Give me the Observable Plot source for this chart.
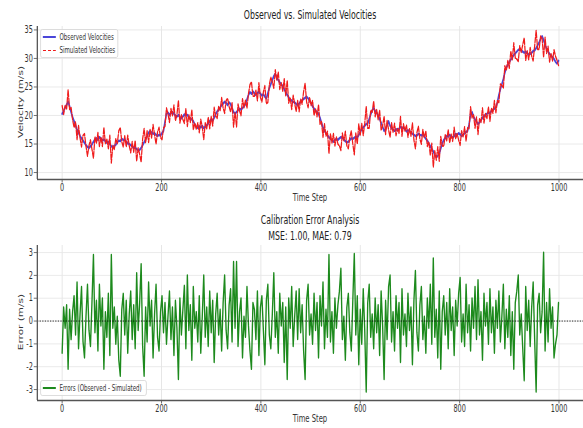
<!DOCTYPE html>
<html><head><meta charset="utf-8">
<script src="https://cdn.jsdelivr.net/npm/d3@7"></script>
<script src="https://cdn.jsdelivr.net/npm/@observablehq/plot@0.6"></script>
<style>
html,body{margin:0;padding:0;background:#fff;overflow:hidden;}
#wrap{position:relative;width:898px;height:428px;transform:scaleX(0.64922);transform-origin:0 0;font-family:"DejaVu Sans",sans-serif;color:#222;}
.abs{position:absolute;white-space:nowrap;}
.plot{position:absolute;left:0;}
</style></head><body><div id="wrap"></div>
<script>
// Time steps are sampled every 3 steps (0..999)
const timeStep = 3;
const observed = [
20.3,20.8,21.4,21.9,22.4,21.6,20.6,19.7,19.0,18.3,
17.5,17.0,16.4,16.0,15.6,15.2,14.8,14.5,14.3,14.6,
14.9,15.4,15.8,16.0,15.7,16.2,16.0,15.6,15.8,15.5,
15.2,15.4,15.0,14.6,14.4,14.7,14.9,15.3,15.6,15.5,
15.9,15.7,15.8,15.4,15.1,15.0,14.8,14.6,14.3,14.4,
14.1,13.9,14.0,14.3,14.8,15.3,15.8,16.4,17.0,17.3,
17.0,16.8,16.9,16.6,16.4,16.6,16.5,16.9,17.3,18.9,
20.3,20.5,20.1,20.4,20.6,20.3,20.0,19.8,20.1,19.7,
19.5,19.8,20.2,20.0,20.1,19.7,19.5,19.3,19.0,18.4,
18.0,17.8,18.1,17.9,18.2,17.8,18.0,18.3,18.6,19.0,
19.3,19.1,19.6,20.2,20.7,21.0,21.4,21.8,22.1,22.4,
22.2,21.8,22.3,22.0,21.3,20.6,20.3,20.6,20.9,21.2,
21.0,21.3,21.6,22.0,22.8,23.6,24.1,23.8,24.2,23.9,
23.6,23.9,24.2,23.8,23.5,23.7,23.3,23.0,23.9,24.8,
25.5,26.2,26.9,27.3,26.6,26.2,25.8,25.5,25.1,24.6,
24.1,23.6,23.2,22.8,22.6,22.4,22.3,22.0,21.8,22.1,
22.4,22.7,22.9,23.1,23.3,23.0,22.6,22.1,21.6,21.2,
20.8,20.6,20.3,19.6,18.7,17.9,17.3,16.9,16.5,16.2,
15.9,15.6,15.4,15.7,15.9,15.7,16.0,16.2,16.1,15.8,
15.5,15.3,15.4,15.7,16.0,15.9,16.1,16.3,16.1,16.6,
17.1,17.6,17.9,18.2,18.5,18.6,19.4,20.2,20.9,21.3,
20.8,20.5,20.0,19.4,18.7,18.0,17.3,17.6,18.3,19.0,
18.2,17.8,17.5,17.3,17.6,17.4,17.7,18.0,17.8,17.9,
17.6,17.2,17.4,17.3,17.0,16.8,16.6,16.4,16.5,16.8,
16.6,16.5,16.7,16.3,15.9,15.6,15.1,14.6,14.1,13.7,
13.1,12.7,12.9,13.3,14.2,15.1,15.7,16.0,16.4,16.3,
16.6,16.3,16.1,16.4,16.8,16.6,16.9,16.7,16.4,16.6,
16.9,17.1,17.3,18.4,20.2,20.6,19.8,19.3,18.9,18.5,
18.8,19.2,19.6,19.9,20.1,20.3,20.5,20.4,20.8,21.0,
21.2,21.4,22.3,23.6,24.6,25.5,26.4,27.5,28.4,28.9,
29.4,29.8,30.2,30.6,30.9,31.2,31.5,31.6,31.4,31.2,
31.0,31.2,30.9,30.7,30.8,31.0,31.3,31.4,31.8,32.3,
32.8,33.4,33.9,33.2,32.4,31.7,31.2,30.8,30.5,30.2,
29.9,29.4,29.1,29.6
];
// Errors (Observed - Simulated)
const errors = [
-1.4,0.6,-0.3,0.7,-2.1,0.5,-0.8,0.4,1.1,-0.6,
1.7,-1.2,0.3,1.5,-0.9,-1.6,0.2,1.6,-0.4,-1.1,
0.8,2.9,-0.5,0.9,-1.3,1.6,-0.2,1.0,-2.1,0.4,
-0.7,1.2,-1.5,2.9,-0.3,0.6,-1.0,0.2,-1.7,-2.4,
0.5,1.2,-0.6,0.9,-1.4,0.3,1.3,-0.8,0.7,-1.2,
2.1,-0.4,0.8,2.5,-1.1,-2.4,0.6,-0.9,1.7,-0.2,
0.9,-1.6,0.3,1.6,-0.7,-1.3,0.4,1.1,-0.5,0.8,
-1.0,0.2,1.3,-0.8,0.6,-1.5,0.9,-0.3,-2.55,1.0,
-0.6,0.5,1.55,-1.2,2.0,-0.4,0.7,-1.7,1.5,-0.3,
0.4,-0.9,1.1,-1.4,0.2,2.0,-0.7,0.6,-1.1,1.3,
-0.5,0.9,-1.8,0.3,1.2,-0.6,0.5,-1.3,0.8,2.0,
-0.4,-1.2,0.7,1.4,-0.9,2.6,-0.3,2.6,-1.1,0.4,
1.0,-1.6,0.2,-0.7,1.5,-0.2,-1.3,-2.1,0.8,0.5,
-0.8,1.3,-1.5,0.6,1.1,-0.4,-1.9,0.9,1.6,-0.6,
-1.2,0.3,2.1,-0.7,0.4,-1.4,1.2,-0.2,0.8,-1.8,
0.6,-2.55,1.0,-0.3,1.5,-1.1,0.2,1.3,-0.8,1.4,
-0.5,0.7,-1.3,-2.55,0.9,1.6,-0.6,0.3,-1.0,1.2,
-0.4,0.8,-1.6,1.1,-0.2,1.7,-1.2,0.5,-0.7,2.9,
-0.9,0.4,-1.4,1.0,-0.3,0.7,1.3,2.3,-0.8,0.2,
-1.7,0.6,1.2,-0.5,-1.3,0.9,2.95,-0.6,1.1,-1.9,
0.5,-1.0,1.4,-0.4,-3.1,0.8,1.6,-0.7,0.3,-1.2,
1.0,-0.5,0.7,-1.5,1.3,-0.2,-2.55,0.9,-0.8,1.5,
2.0,-0.9,0.4,-1.3,1.1,-0.3,0.8,-1.8,1.4,-0.6,
0.3,-1.1,1.2,-0.4,0.6,-1.9,0.9,2.2,-0.5,-1.3,
0.7,1.5,-0.8,0.2,-1.4,1.0,-0.3,1.6,-1.0,2.75,
-0.7,0.5,-1.6,1.3,-2.1,0.4,1.1,-0.6,0.8,-1.2,
1.4,-0.4,0.6,-1.5,0.9,-0.2,1.2,1.9,-0.9,0.3,
-1.1,1.6,-0.5,0.7,-1.3,1.0,-0.3,1.5,-0.8,1.8,
-0.6,0.4,-1.7,1.2,-0.2,0.8,-1.0,1.4,-0.5,0.6,
-1.4,0.9,-0.3,1.3,-0.9,0.2,1.6,-1.2,0.5,-0.7,
1.1,-1.5,0.4,-2.1,0.8,1.3,2.0,-0.6,0.3,-1.2,
-2.6,1.5,-0.4,0.9,-1.1,0.6,1.7,-0.8,-3.1,0.7,
1.2,-0.5,0.4,3.0,-1.3,0.8,-0.9,1.4,-0.3,0.6,
-1.6,-1.0,-0.6,0.8
];
const xTicks = [0, 200, 400, 600, 800, 1000];
const velTicks = [10, 15, 20, 25, 30, 35];
const errTicks = [-3, -2, -1, 0, 1, 2, 3];
const titles = ["Observed vs. Simulated Velocities", "Calibration Error Analysis", "MSE: 1.00, MAE: 0.79"];
const legendLabels = ["Observed Velocities", "Simulated Velocities", "Errors (Observed - Simulated)"];

const rows = observed.map((v, i) => ({
  t: i * timeStep,
  obs: v,
  err: errors[i],
  sim: +(v - errors[i]).toFixed(2)
}));

const W = 898, ML = 57;
const xDom = [-49.95, 1048.95];
const grid = "#e6e6e6", spine = "#555";
const baseStyle = {background: "transparent", fontFamily: "DejaVu Sans", fontSize: "10px", color: "#333", overflow: "visible"};
const fmt = d => String(d);

const yDom1 = [8.78, 35.6];
const p1 = Plot.plot({
  width: W, height: 205, marginLeft: ML, marginRight: 0, marginTop: 26, marginBottom: 26,
  style: baseStyle,
  x: {domain: xDom},
  y: {domain: yDom1},
  marks: [
    Plot.gridX(xTicks, {stroke: grid, strokeOpacity: 1, strokeWidth: 1.5}),
    Plot.gridY(velTicks, {stroke: grid, strokeOpacity: 1, strokeWidth: 1}),
    Plot.lineY(rows, {x: "t", y: "obs", stroke: "#4a46d8", strokeWidth: 2.4}),
    Plot.lineY(rows, {x: "t", y: "sim", stroke: "#f01c1c", strokeWidth: 1.9, strokeDasharray: "5,2"}),
    Plot.ruleX([xDom[0]], {stroke: spine, strokeWidth: 2}),
    Plot.ruleY([yDom1[0]], {stroke: spine, strokeWidth: 1.6}),
    Plot.axisX(xTicks, {tickSize: 3.5, tickPadding: 1, label: null, stroke: spine, tickFormat: fmt}),
    Plot.axisY(velTicks, {tickSize: 5, tickPadding: 2, label: null, stroke: spine, tickFormat: fmt})
  ]
});

const yDom2 = [-3.48, 3.31];
const p2 = Plot.plot({
  width: W, height: 223, marginLeft: ML, marginRight: 0, marginTop: 40, marginBottom: 28,
  style: baseStyle,
  x: {domain: xDom},
  y: {domain: yDom2},
  marks: [
    Plot.gridX(xTicks, {stroke: grid, strokeOpacity: 1, strokeWidth: 1.5}),
    Plot.gridY(errTicks, {stroke: grid, strokeOpacity: 1, strokeWidth: 1}),
    Plot.lineY(rows, {x: "t", y: "err", stroke: "#1d8a1d", strokeWidth: 2.1}),
    Plot.ruleY([0], {stroke: "#000", strokeWidth: 1, strokeDasharray: "2,2"}),
    Plot.ruleX([xDom[0]], {stroke: spine, strokeWidth: 2}),
    Plot.ruleY([yDom2[0]], {stroke: spine, strokeWidth: 1.6}),
    Plot.axisX(xTicks, {tickSize: 3.5, tickPadding: 1, label: null, stroke: spine, tickFormat: fmt}),
    Plot.axisY(errTicks, {tickSize: 5, tickPadding: 2, label: null, stroke: spine, tickFormat: fmt})
  ]
});

const wrap = document.getElementById("wrap");
p1.classList.add("plot"); p1.style.top = "0px";
p2.classList.add("plot"); p2.style.top = "205px";
wrap.appendChild(p1);
wrap.appendChild(p2);

function addText(txt, cx, cy, size, opts = {}) {
  const d = document.createElement("div");
  d.className = "abs";
  d.textContent = txt;
  d.style.fontSize = size + "px";
  d.style.lineHeight = "1";
  d.style.left = cx + "px";
  d.style.top = cy + "px";
  d.style.color = opts.color || "#222";
  d.style.transform = "translate(-50%,-50%)" + (opts.rotate ? " rotate(-90deg)" : "");
  wrap.appendChild(d);
  return d;
}
function addBox(left, top, w, h, css) {
  const d = document.createElement("div");
  d.className = "abs";
  Object.assign(d.style, {left: left + "px", top: top + "px", width: w + "px", height: h + "px"}, css);
  wrap.appendChild(d);
  return d;
}
function addLabel(txt, left, cy, size) {
  const d = document.createElement("div");
  d.className = "abs";
  d.textContent = txt;
  Object.assign(d.style, {left: left + "px", top: (cy - size * 0.6) + "px", fontSize: size + "px", lineHeight: (size * 1.2) + "px", color: "#333"});
  wrap.appendChild(d);
}

const cx = (ML + W) / 2;
addText(titles[0], cx, 15, 12);
addText(titles[1], cx, 220, 12);
addText(titles[2], cx, 236, 12);
addText("Time Step", cx, 197, 10.5, {color: "#333"});
addText("Time Step", cx, 418, 10.5, {color: "#333"});
addText("Velocity (m/s)", 32, 102, 10.5, {rotate: true, color: "#333"});
addText("Error (m/s)", 32, 322, 10.5, {rotate: true, color: "#333"});

// legend (top)
const legBox = {background: "rgba(255,255,255,0.85)", border: "1px solid #d6d6d6", borderRadius: "3px", boxSizing: "border-box"};
addBox(62, 29, 120, 29, legBox);
addBox(66, 36, 20, 2.2, {background: "#4a46d8"});
addBox(66, 49.5, 20, 1.8, {background: "repeating-linear-gradient(to right, #f01c1c 0 5px, transparent 5px 7.5px)"});
addLabel(legendLabels[0], 91.5, 37, 8.5);
addLabel(legendLabels[1], 91.5, 50.5, 8.5);
// legend (bottom)
addBox(62, 380, 164, 16, legBox);
addBox(66, 386.5, 20, 2, {background: "#1d8a1d"});
addLabel(legendLabels[2], 91.5, 387.8, 8.5);
</script></body></html>
